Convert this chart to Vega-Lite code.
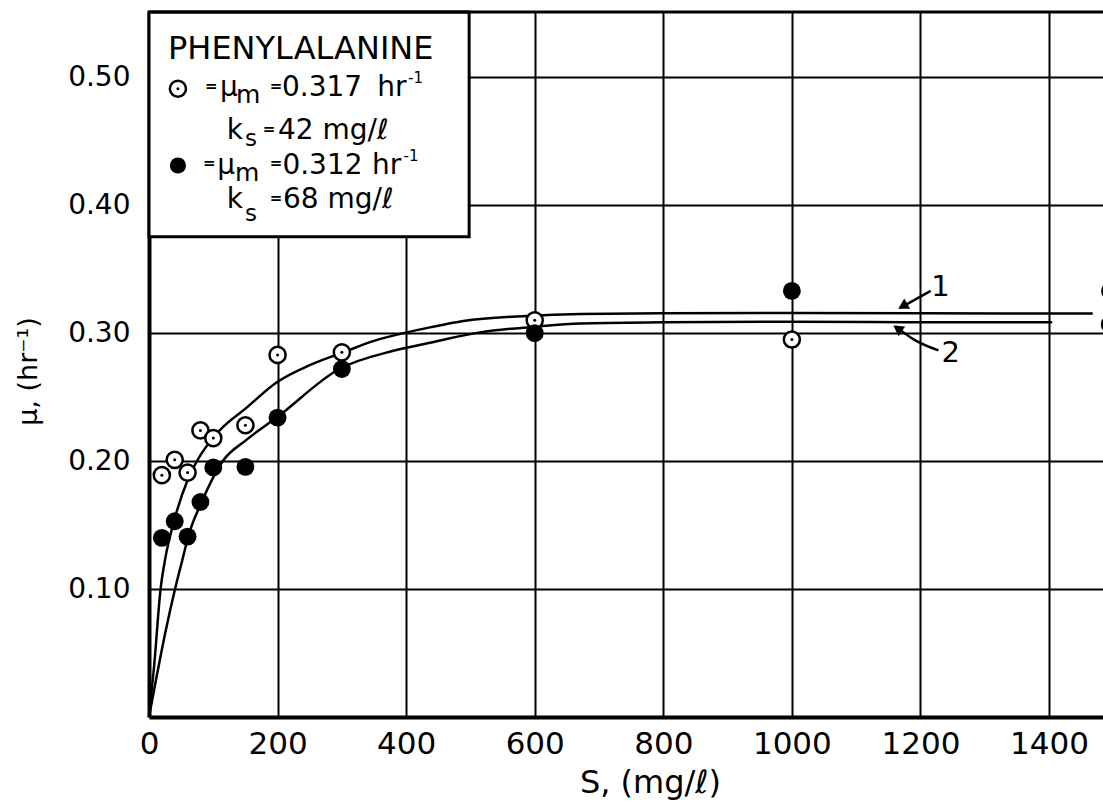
{
  "$schema": "https://vega.github.io/schema/vega-lite/v6.json",
  "width": 954,
  "height": 705,
  "autosize": "none",
  "padding": {"left": 149, "top": 12, "right": 0, "bottom": 85},
  "background": "white",
  "config": {
    "view": {"stroke": null},
    "font": "DejaVu Sans",
    "axis": {
      "grid": true,
      "gridColor": "black",
      "gridWidth": 2,
      "gridOpacity": 1,
      "domainColor": "black",
      "domainWidth": 4,
      "ticks": false,
      "labelFlush": false,
      "labelColor": "black",
      "labelFont": "DejaVu Sans",
      "titleColor": "black",
      "titleFont": "DejaVu Sans",
      "titleFontWeight": "normal"
    }
  },
  "datasets": {
    "openPts": [
      {"S": 20, "mu": 0.189}, {"S": 40, "mu": 0.201}, {"S": 60, "mu": 0.191},
      {"S": 80, "mu": 0.224}, {"S": 100, "mu": 0.218}, {"S": 150, "mu": 0.228},
      {"S": 200, "mu": 0.283}, {"S": 300, "mu": 0.285}, {"S": 600, "mu": 0.310},
      {"S": 1000, "mu": 0.295}, {"S": 1495, "mu": 0.307}
    ],
    "filledPts": [
      {"S": 20, "mu": 0.140}, {"S": 40, "mu": 0.153}, {"S": 60, "mu": 0.141},
      {"S": 80, "mu": 0.168}, {"S": 100, "mu": 0.195}, {"S": 150, "mu": 0.1955},
      {"S": 200, "mu": 0.234}, {"S": 300, "mu": 0.272}, {"S": 600, "mu": 0.300},
      {"S": 1000, "mu": 0.333}, {"S": 1495, "mu": 0.333}
    ],
    "curves": [
      {"curve": "1", "S": 0, "mu": 0}, {"curve": "1", "S": 8, "mu": 0.04},
      {"curve": "1", "S": 18, "mu": 0.10}, {"curve": "1", "S": 25, "mu": 0.123},
      {"curve": "1", "S": 40, "mu": 0.155}, {"curve": "1", "S": 60, "mu": 0.185},
      {"curve": "1", "S": 74, "mu": 0.1995}, {"curve": "1", "S": 110, "mu": 0.224},
      {"curve": "1", "S": 150, "mu": 0.241}, {"curve": "1", "S": 200, "mu": 0.262},
      {"curve": "1", "S": 250, "mu": 0.275}, {"curve": "1", "S": 302, "mu": 0.285},
      {"curve": "1", "S": 350, "mu": 0.294}, {"curve": "1", "S": 401, "mu": 0.3006},
      {"curve": "1", "S": 437, "mu": 0.3045}, {"curve": "1", "S": 489, "mu": 0.3095},
      {"curve": "1", "S": 588, "mu": 0.3135}, {"curve": "1", "S": 671, "mu": 0.315},
      {"curve": "1", "S": 800, "mu": 0.3155}, {"curve": "1", "S": 1000, "mu": 0.3157},
      {"curve": "1", "S": 1200, "mu": 0.3155}, {"curve": "1", "S": 1468, "mu": 0.3153},
      {"curve": "2", "S": 0, "mu": 0}, {"curve": "2", "S": 9, "mu": 0.024},
      {"curve": "2", "S": 25, "mu": 0.065}, {"curve": "2", "S": 40.5, "mu": 0.10},
      {"curve": "2", "S": 52, "mu": 0.123}, {"curve": "2", "S": 61, "mu": 0.141},
      {"curve": "2", "S": 82, "mu": 0.168}, {"curve": "2", "S": 116, "mu": 0.2008},
      {"curve": "2", "S": 150, "mu": 0.216}, {"curve": "2", "S": 200, "mu": 0.2346},
      {"curve": "2", "S": 296, "mu": 0.272}, {"curve": "2", "S": 380, "mu": 0.2862},
      {"curve": "2", "S": 437, "mu": 0.2925}, {"curve": "2", "S": 463, "mu": 0.2955},
      {"curve": "2", "S": 515, "mu": 0.3006}, {"curve": "2", "S": 600, "mu": 0.305},
      {"curve": "2", "S": 671, "mu": 0.3076}, {"curve": "2", "S": 800, "mu": 0.3085},
      {"curve": "2", "S": 1000, "mu": 0.309}, {"curve": "2", "S": 1200, "mu": 0.3086},
      {"curve": "2", "S": 1405, "mu": 0.3086}
    ],
    "arrows": [
      {"arrow": "1", "S": 1216, "mu": 0.333}, {"arrow": "1", "S": 1168, "mu": 0.3195},
      {"arrow": "2", "S": 1228, "mu": 0.2865}, {"arrow": "2", "S": 1190, "mu": 0.2949},
      {"arrow": "2", "S": 1161, "mu": 0.3055}
    ],
    "notes": [
      {"kind": "head", "S": 29.6, "mu": 0.5145, "t": "PHENYLALANINE"},
      {"kind": "eq", "S": 87, "mu": 0.4933, "t": "="},
      {"kind": "main", "S": 110.5, "mu": 0.4855, "t": "μ"},
      {"kind": "sub", "S": 135.3, "mu": 0.480, "t": "m"},
      {"kind": "eq", "S": 188, "mu": 0.4933, "t": "="},
      {"kind": "main", "S": 206.9, "mu": 0.4855, "t": "0.317"},
      {"kind": "main", "S": 355, "mu": 0.4855, "t": "hr"},
      {"kind": "sup", "S": 403, "mu": 0.4957, "t": "-1"},
      {"kind": "main", "S": 121, "mu": 0.452, "t": "k"},
      {"kind": "subs", "S": 149.3, "mu": 0.4465, "t": "s"},
      {"kind": "eq", "S": 177, "mu": 0.4598, "t": "="},
      {"kind": "main", "S": 200.5, "mu": 0.452, "t": "42 mg/ℓ"},
      {"kind": "eq", "S": 84, "mu": 0.4328, "t": "="},
      {"kind": "main", "S": 106, "mu": 0.4246, "t": "μ"},
      {"kind": "sub", "S": 133.8, "mu": 0.419, "t": "m"},
      {"kind": "eq", "S": 188, "mu": 0.4328, "t": "="},
      {"kind": "main", "S": 207.5, "mu": 0.4246, "t": "0.312"},
      {"kind": "main", "S": 347, "mu": 0.4246, "t": "hr"},
      {"kind": "sup", "S": 396, "mu": 0.4348, "t": "-1"},
      {"kind": "main", "S": 121, "mu": 0.398, "t": "k"},
      {"kind": "subs", "S": 149.3, "mu": 0.388, "t": "s"},
      {"kind": "eq", "S": 188, "mu": 0.4059, "t": "="},
      {"kind": "main", "S": 208.4, "mu": 0.398, "t": "68 mg/ℓ"},
      {"kind": "callout", "S": 1231, "mu": 0.3363, "t": "1"},
      {"kind": "callout", "S": 1247, "mu": 0.2848, "t": "2"}
    ]
  },
  "encoding": {
    "x": {
      "field": "S",
      "type": "quantitative",
      "scale": {"domain": [0, 1484], "nice": false, "zero": true},
      "axis": {
        "values": [0, 200, 400, 600, 800, 1000, 1200, 1400],
        "format": "d",
        "labelFontSize": 31,
        "labelPadding": 12,
        "title": "S, (mg/ℓ)",
        "titleFontSize": 32,
        "titleX": 501,
        "titleY": 75,
        "titleAlign": "center",
        "titleBaseline": "alphabetic"
      }
    },
    "y": {
      "field": "mu",
      "type": "quantitative",
      "scale": {"domain": [0, 0.551], "nice": false, "zero": true},
      "axis": {
        "values": [0.1, 0.2, 0.3, 0.4, 0.5],
        "format": ".2f",
        "labelFontSize": 28,
        "labelPadding": 19,
        "title": "μ, (hr⁻¹)",
        "titleFontSize": 27,
        "titleAngle": -90,
        "titleX": -121,
        "titleY": 359,
        "titleAlign": "center",
        "titleBaseline": "middle"
      }
    }
  },
  "layer": [
    {
      "data": {"values": [{"S0": 0, "S1": 498, "m0": 0.3754, "m1": 0.551}]},
      "mark": {"type": "rect", "fill": "white", "stroke": "black", "strokeWidth": 3},
      "encoding": {
        "x": {"field": "S0", "type": "quantitative"},
        "x2": {"field": "S1"},
        "y": {"field": "m0", "type": "quantitative"},
        "y2": {"field": "m1"}
      }
    },
    {
      "data": {"name": "curves"},
      "mark": {"type": "line", "color": "black", "strokeWidth": 2.5, "interpolate": "monotone"},
      "encoding": {"detail": {"field": "curve"}}
    },
    {
      "data": {"name": "openPts"},
      "mark": {"type": "point", "shape": "circle", "filled": false, "fill": "white", "fillOpacity": 1, "stroke": "black", "strokeWidth": 2.5, "size": 260, "opacity": 1}
    },
    {
      "data": {"name": "openPts"},
      "mark": {"type": "point", "shape": "circle", "filled": true, "color": "black", "size": 9, "opacity": 1}
    },
    {
      "data": {"name": "filledPts"},
      "mark": {"type": "point", "shape": "circle", "filled": true, "color": "black", "size": 320, "opacity": 1}
    },
    {
      "data": {"values": [{"S": 45, "mu": 0.491}]},
      "mark": {"type": "point", "shape": "circle", "filled": false, "fill": "white", "fillOpacity": 1, "stroke": "black", "strokeWidth": 2.5, "size": 260, "opacity": 1}
    },
    {
      "data": {"values": [{"S": 45, "mu": 0.491}]},
      "mark": {"type": "point", "shape": "circle", "filled": true, "color": "black", "size": 9, "opacity": 1}
    },
    {
      "data": {"values": [{"S": 45, "mu": 0.431}]},
      "mark": {"type": "point", "shape": "circle", "filled": true, "color": "black", "size": 260, "opacity": 1}
    },
    {
      "data": {"name": "arrows"},
      "mark": {"type": "line", "color": "black", "strokeWidth": 2.5, "interpolate": "monotone"},
      "encoding": {"detail": {"field": "arrow"}}
    },
    {
      "data": {"values": [{"S": 1172.5, "mu": 0.3211}]},
      "mark": {"type": "point", "shape": "triangle-up", "filled": true, "color": "black", "size": 140, "angle": 240, "opacity": 1}
    },
    {
      "data": {"values": [{"S": 1164.5, "mu": 0.3037}]},
      "mark": {"type": "point", "shape": "triangle-up", "filled": true, "color": "black", "size": 140, "angle": 304, "opacity": 1}
    },
    {
      "data": {"name": "notes"},
      "transform": [{"filter": "datum.kind === 'head'"}],
      "mark": {"type": "text", "align": "left", "baseline": "alphabetic", "fontSize": 32, "color": "black"},
      "encoding": {"text": {"field": "t"}}
    },
    {
      "data": {"name": "notes"},
      "transform": [{"filter": "datum.kind === 'main'"}],
      "mark": {"type": "text", "align": "left", "baseline": "alphabetic", "fontSize": 28, "color": "black"},
      "encoding": {"text": {"field": "t"}}
    },
    {
      "data": {"name": "notes"},
      "transform": [{"filter": "datum.kind === 'eq'"}],
      "mark": {"type": "text", "align": "left", "baseline": "middle", "font": "DejaVu Sans", "fontSize": 15, "fontWeight": "bold", "color": "black"},
      "encoding": {"text": {"field": "t"}}
    },
    {
      "data": {"name": "notes"},
      "transform": [{"filter": "datum.kind === 'sub'"}],
      "mark": {"type": "text", "align": "left", "baseline": "alphabetic", "fontSize": 25, "color": "black"},
      "encoding": {"text": {"field": "t"}}
    },
    {
      "data": {"name": "notes"},
      "transform": [{"filter": "datum.kind === 'subs'"}],
      "mark": {"type": "text", "align": "left", "baseline": "alphabetic", "fontSize": 23, "color": "black"},
      "encoding": {"text": {"field": "t"}}
    },
    {
      "data": {"name": "notes"},
      "transform": [{"filter": "datum.kind === 'sup'"}],
      "mark": {"type": "text", "align": "left", "baseline": "alphabetic", "fontSize": 15, "color": "black"},
      "encoding": {"text": {"field": "t"}}
    },
    {
      "data": {"name": "notes"},
      "transform": [{"filter": "datum.kind === 'callout'"}],
      "mark": {"type": "text", "align": "center", "baseline": "middle", "fontSize": 29, "color": "black"},
      "encoding": {"text": {"field": "t"}}
    },
    {
      "data": {"values": [{"S0": 0, "S1": 1484, "m": 0.551}]},
      "mark": {"type": "rule", "color": "black", "strokeWidth": 3},
      "encoding": {
        "x": {"field": "S0", "type": "quantitative"},
        "x2": {"field": "S1"},
        "y": {"field": "m", "type": "quantitative"}
      }
    }
  ]
}
